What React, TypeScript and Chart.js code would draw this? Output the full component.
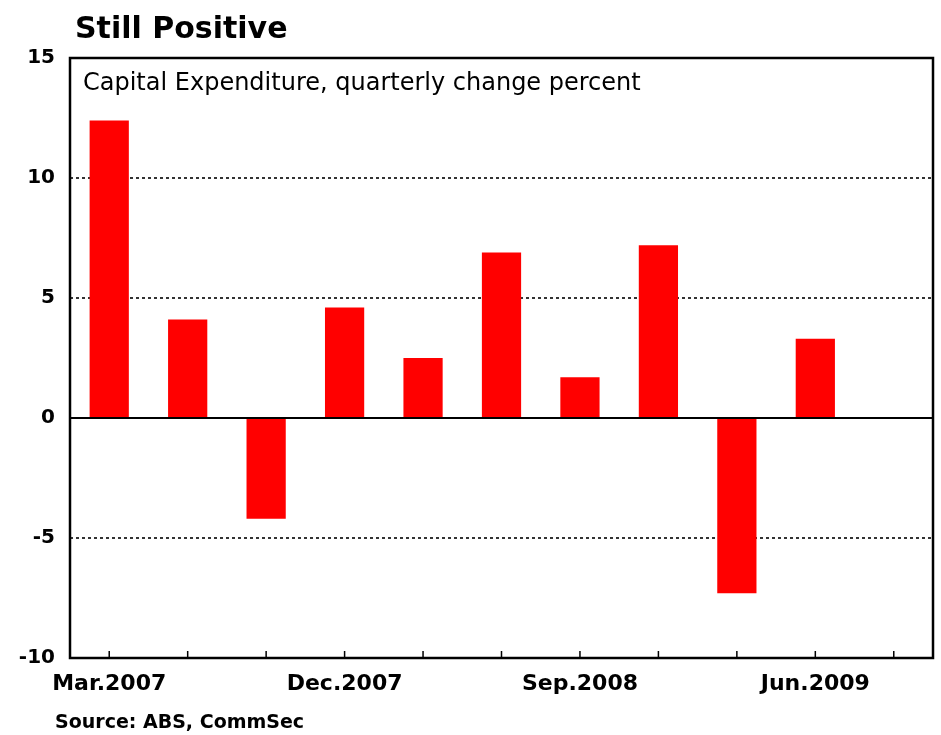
import React, { useEffect, useRef } from "react";
import { Chart, registerables } from "chart.js";

Chart.register(...registerables);

const quarters = [
  "Mar.2007", "Jun.2007", "Sep.2007", "Dec.2007",
  "Mar.2008", "Jun.2008", "Sep.2008", "Dec.2008",
  "Mar.2009", "Jun.2009", "Sep.2009",
];
const capexChange: (number | null)[] = [12.4, 4.1, -4.2, 4.6, 2.5, 6.9, 1.7, 7.2, -7.3, 3.3, null];
const yMin = -10;
const yMax = 15;
const yStep = 5;
const title = "Still Positive";
const subtitle = "Capital Expenditure, quarterly change percent";
const source = "Source: ABS, CommSec";

const FONT = "'DejaVu Sans', 'Liberation Sans', sans-serif";

const decorPlugin = {
  id: "decor",
  beforeDatasetsDraw(chart: any) {
    const { ctx, chartArea, scales } = chart;
    const y0 = scales.y.getPixelForValue(0);
    ctx.save();
    ctx.strokeStyle = "#000";
    ctx.lineWidth = 2;
    ctx.beginPath();
    ctx.moveTo(chartArea.left, y0);
    ctx.lineTo(chartArea.right, y0);
    ctx.stroke();
    ctx.restore();
  },
  afterDraw(chart: any) {
    const { ctx, chartArea, scales } = chart;
    ctx.save();
    // frame
    ctx.strokeStyle = "#000";
    ctx.lineWidth = 2.5;
    ctx.strokeRect(chartArea.left, chartArea.top, chartArea.right - chartArea.left, chartArea.bottom - chartArea.top);
    // inward x ticks
    ctx.lineWidth = 1.5;
    ctx.beginPath();
    quarters.forEach((_, i) => {
      const x = scales.x.getPixelForValue(i);
      ctx.moveTo(x, chartArea.bottom);
      ctx.lineTo(x, chartArea.bottom - 7);
    });
    ctx.stroke();
    // texts
    ctx.fillStyle = "#000";
    ctx.textAlign = "left";
    ctx.textBaseline = "alphabetic";
    ctx.font = `bold 30px ${FONT}`;
    ctx.fillText(title, 75, 38);
    ctx.font = `24px ${FONT}`;
    ctx.fillText(subtitle, 83, 90);
    ctx.font = `bold 19px ${FONT}`;
    ctx.textBaseline = "middle";
    ctx.fillText(source, 55, 723);
    ctx.restore();
  },
};

export default function App() {
  const ref = useRef<HTMLCanvasElement>(null);
  useEffect(() => {
    const chart = new Chart(ref.current as HTMLCanvasElement, {
      type: "bar",
      data: {
        labels: quarters,
        datasets: [
          {
            data: capexChange,
            backgroundColor: "#ff0000",
            borderWidth: 0,
            categoryPercentage: 1,
            barPercentage: 0.5,
          },
        ],
      },
      options: {
        animation: false,
        responsive: false,
        devicePixelRatio: 1,
        layout: { padding: { top: 58, right: 8, bottom: 37, left: 0 } },
        plugins: { legend: { display: false }, tooltip: { enabled: false }, title: { display: false } },
        scales: {
          x: {
            afterFit: (s: any) => { s.height = 40; },
            grid: { display: false, drawTicks: false },
            border: { display: false },
            ticks: {
              autoSkip: false,
              maxRotation: 0,
              padding: 13,
              color: "#000",
              font: { family: FONT, size: 22, weight: "bold" },
              callback: (_v: any, i: number) => (i % 3 === 0 ? quarters[i] : ""),
            },
          },
          y: {
            min: yMin,
            max: yMax,
            afterFit: (s: any) => { s.width = 70; },
            grid: {
              drawTicks: false,
              lineWidth: 2,
              color: (c: any) => {
                const v = c.tick && c.tick.value;
                return v === 0 || v === yMin || v === yMax ? "rgba(0,0,0,0)" : "#333";
              },
            },
            border: { display: false, dash: [3, 3] },
            ticks: {
              stepSize: yStep,
              padding: 15,
              color: "#000",
              font: { family: FONT, size: 20, weight: "bold" },
            },
          },
        },
      },
      plugins: [decorPlugin],
    } as any);
    return () => chart.destroy();
  }, []);
  return (
    <div style={{ position: "absolute", left: 0, top: 0, width: 941, height: 735, background: "#fff" }}>
      <canvas ref={ref} width={941} height={735} />
    </div>
  );
}
